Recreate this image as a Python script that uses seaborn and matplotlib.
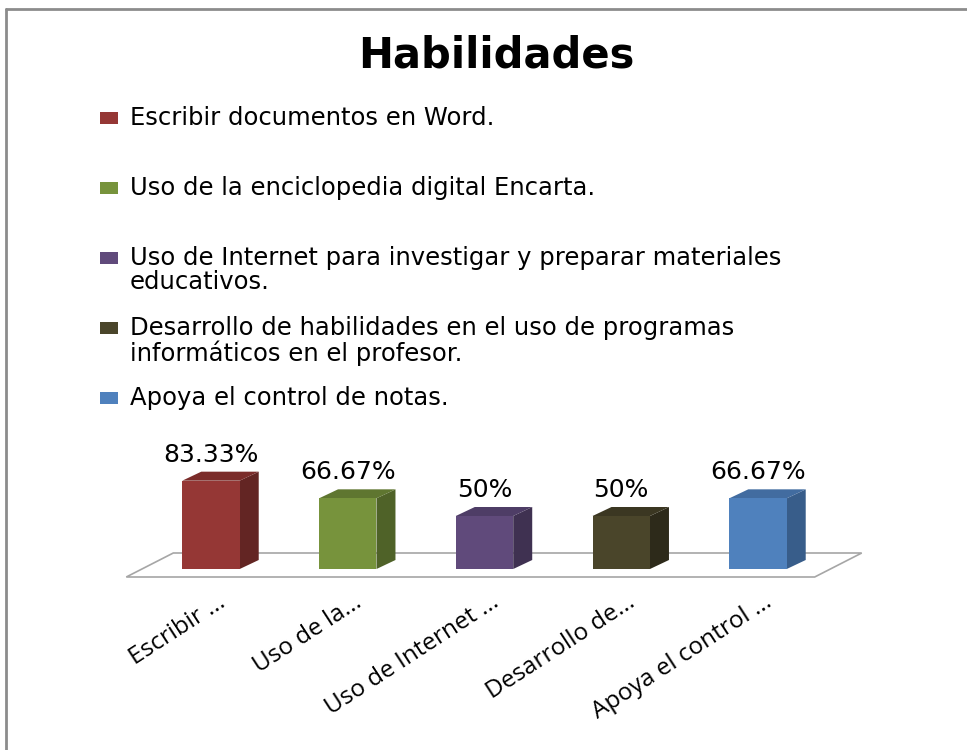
import numpy as np
import pandas as pd
import matplotlib
matplotlib.use("Agg")
import matplotlib.pyplot as plt
import matplotlib.transforms as mtransforms
from matplotlib.patches import Polygon, Rectangle
from matplotlib.lines import Line2D
import seaborn as sns

# ---------------- data ----------------
title = "Habilidades"
categories = ["Escribir", "Enciclopedia", "Internet", "Desarrollo", "Notas"]
tick_labels = ["Escribir ...", "Uso de la...", "Uso de Internet ...",
               "Desarrollo de...", "Apoya el control ..."]
legend_labels = [
    "Escribir documentos en Word.",
    "Uso de la enciclopedia digital Encarta.",
    "Uso de Internet para investigar y preparar materiales\neducativos.",
    "Desarrollo de habilidades en el uso de programas\ninformáticos en el profesor.",
    "Apoya el control de notas.",
]
values = [83.33, 66.67, 50, 50, 66.67]
value_labels = ["83.33%", "66.67%", "50%", "50%", "66.67%"]

front_colors = ["#953735", "#77933C", "#604A7B", "#4A452A", "#4F81BD"]
side_colors = ["#632523", "#4F6228", "#3F3151", "#2D2A1A", "#385D8A"]
top_colors = ["#7B2C2A", "#5F7630", "#4E3D66", "#3B3722", "#426CA0"]

# ---------------- figure ----------------
sns.set_theme(style="white")
plt.rcParams["font.family"] = ["DejaVu Sans"]

W, H, DPI = 967, 750, 100
fig = plt.figure(figsize=(W / DPI, H / DPI), dpi=DPI)
fig.patch.set_facecolor("white")

# axes placement (pixels from figure edges)
ax_left_px, ax_w_px = 74.25, 820.5
y0_px_top = 569.0          # pixel (from top) of value 0
px_per_unit = 1.06
ylo, yhi = -10, 100
ax_h_px = (yhi - ylo) * px_per_unit
ax_bottom_px = (H - y0_px_top) + ylo * px_per_unit
ax = fig.add_axes([ax_left_px / W, ax_bottom_px / H, ax_w_px / W, ax_h_px / H])

df = pd.DataFrame({"categoria": categories, "valor": values})
sns.barplot(data=df, x="categoria", y="valor", hue="categoria",
            palette=front_colors, saturation=1, width=0.42, legend=False,
            linewidth=0, edgecolor="none", ax=ax, zorder=3)
ax.set_xlim(-1, len(categories))
ax.set_ylim(ylo, yhi)
ax.set_facecolor("none")
for s in ax.spines.values():
    s.set_visible(False)
ax.set_xlabel("")
ax.set_ylabel("")
ax.set_yticks([])
ax.set_xticks(range(len(categories)))
ax.set_xticklabels(tick_labels, rotation=33, ha="right", va="center",
                   rotation_mode="anchor", fontsize=17.5, family="Open Sans",
                   color="black")
ax.tick_params(axis="x", length=0, pad=15)
offset = mtransforms.ScaledTranslation(12 / DPI, 0, fig.dpi_scale_trans)
for lab in ax.get_xticklabels():
    lab.set_transform(lab.get_transform() + offset)

fig.canvas.draw()
tD = ax.transData
inv = fig.transFigure.inverted()

def to_fig(pts):
    return inv.transform(np.asarray(pts))

# floor (3D plane)
bars = list(ax.patches)
first, last = bars[0], bars[-1]
zero_px = tD.transform((0, 0))[1]
fl_left = tD.transform((first.get_x(), 0))[0] - 56
fl_right = tD.transform((last.get_x() + last.get_width(), 0))[0] + 28
front_y = zero_px - 8
ddx, ddy = 47, 24
floor = [(fl_left, front_y), (fl_right, front_y),
         (fl_right + ddx, front_y + ddy), (fl_left + ddx, front_y + ddy)]
fig.patches.append(Polygon(to_fig(floor), closed=True, transform=fig.transFigure,
                           facecolor="white", edgecolor="#A6A6A6", lw=1.2,
                           zorder=1))

# 3D faces of the bars
bdx, bdy = 19, 9
for i, b in enumerate(bars):
    x0, w, h = b.get_x(), b.get_width(), b.get_height()
    (px0, py0) = tD.transform((x0, 0))
    (px1, py1) = tD.transform((x0 + w, h))
    side = [(px1, py0), (px1, py1), (px1 + bdx, py1 + bdy), (px1 + bdx, py0 + bdy)]
    top = [(px0, py1), (px1, py1), (px1 + bdx, py1 + bdy), (px0 + bdx, py1 + bdy)]
    fig.patches.append(Polygon(to_fig(side), closed=True, transform=fig.transFigure,
                               facecolor=side_colors[i], edgecolor="none", zorder=2))
    fig.patches.append(Polygon(to_fig(top), closed=True, transform=fig.transFigure,
                               facecolor=top_colors[i], edgecolor="none", zorder=2))
    ax.annotate(value_labels[i], xy=(x0 + w / 2, h), xytext=(0, 10),
                textcoords="offset points", ha="center", va="bottom",
                fontsize=18, color="black", annotation_clip=False)

# put axes above the figure-level polygons
ax.set_zorder(5)

# title
fig.text(496 / W, 1 - 55 / H, title, ha="center", va="center",
         fontsize=30, fontweight="bold", family="DejaVu Sans", color="black")

# legend (fixed slots like the original)
leg_top_px = 118
slot_px = 70
for i, lab in enumerate(legend_labels):
    yc = leg_top_px + i * slot_px
    fig.patches.append(Rectangle((100 / W, 1 - (yc + 6) / H), 18 / W, 12 / H,
                                 transform=fig.transFigure,
                                 facecolor=front_colors[i], edgecolor="none"))
    fig.text(130 / W, 1 - (yc - 12) / H, lab, ha="left", va="top",
             fontsize=17.5, color="black", linespacing=1.0)

# border lines of the chart area
fig.add_artist(Line2D([6 / W, 6 / W], [0, 1 - 9 / H], transform=fig.transFigure,
                      color="#8C8C8C", lw=2))
fig.add_artist(Line2D([6 / W, 1], [1 - 9 / H, 1 - 9 / H], transform=fig.transFigure,
                      color="#8C8C8C", lw=2))

fig.savefig("out.png", dpi=DPI, facecolor="white")
